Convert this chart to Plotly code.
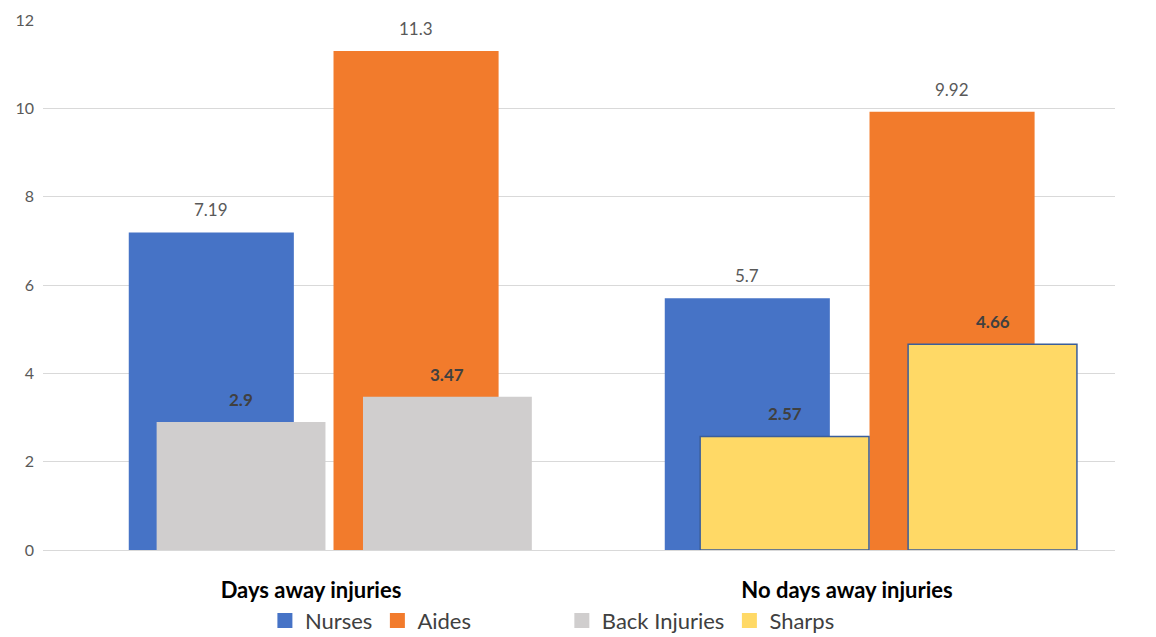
import plotly.graph_objects as go

categories = ["Days away injuries", "No days away injuries"]
nurses = [7.19, 5.7]
aides = [11.3, 9.92]
back_injuries = [2.9, 3.47]      # both in "Days away injuries" (nurses, aides)
sharps = [2.57, 4.66]            # both in "No days away injuries" (nurses, aides)
y_ticks = [0, 2, 4, 6, 8, 10, 12]

FONT = "Lato"
W_MAIN = 0.308
OFF_N, OFF_A = -0.340, 0.042
W_OV = 0.315
OFF_OV = [-0.288, 0.097]
OFF_OV2 = [-0.274, 0.114]

C_N, C_A, C_B, C_S = "#4673c6", "#f27b2c", "#d0cece", "#ffd966"

fig = go.Figure()
fig.add_trace(go.Bar(name="Nurses", x=categories, y=nurses, width=W_MAIN, offset=OFF_N,
                     marker=dict(color=C_N, line=dict(width=0)), showlegend=False))
fig.add_trace(go.Bar(name="Aides", x=categories, y=aides, width=W_MAIN, offset=OFF_A,
                     marker=dict(color=C_A, line=dict(width=0)), showlegend=False))
fig.add_trace(go.Bar(name="Back Injuries", x=[categories[0]] * 2, y=back_injuries,
                     width=W_OV, offset=OFF_OV,
                     marker=dict(color=C_B, line=dict(width=0)), showlegend=False))
fig.add_trace(go.Bar(name="Sharps", x=[categories[1]] * 2, y=sharps,
                     width=W_OV, offset=OFF_OV2,
                     marker=dict(color=C_S, line=dict(color="#3b5e9a", width=1.5)),
                     showlegend=False))

# legend-only square markers (bigger swatches)
for name, col, lg in [("Nurses", C_N, "legend"), ("Aides", C_A, "legend"),
                      ("Back Injuries", C_B, "legend2"), ("Sharps", C_S, "legend2")]:
    fig.add_trace(go.Scatter(name=name, x=[None], y=[None], mode="markers",
                             marker=dict(symbol="square", size=15, color=col, line=dict(width=0)),
                             legend=lg, showlegend=True))

LBL = 17
ann = []
for i, c in enumerate(categories):
    ann.append(dict(x=i + OFF_N + W_MAIN / 2, y=nurses[i], text=str(nurses[i]), showarrow=False,
                    yanchor="bottom", yshift=10, font=dict(family=FONT, size=LBL, color="#595959")))
    ann.append(dict(x=i + OFF_A + W_MAIN / 2, y=aides[i], text=str(aides[i]), showarrow=False,
                    yanchor="bottom", yshift=10, font=dict(family=FONT, size=LBL, color="#595959")))
for j, v in enumerate(back_injuries):
    ann.append(dict(x=0 + OFF_OV[j] + W_OV / 2, y=v, text=f"<b>{v}</b>", showarrow=False,
                    yanchor="bottom", yshift=10, font=dict(family=FONT, size=LBL, color="#404040")))
for j, v in enumerate(sharps):
    ann.append(dict(x=1 + OFF_OV2[j] + W_OV / 2, y=v, text=f"<b>{v}</b>", showarrow=False,
                    yanchor="bottom", yshift=10, font=dict(family=FONT, size=LBL, color="#404040")))

leg_common = dict(orientation="h", xanchor="left", y=-0.094, yanchor="top",
                  font=dict(family=FONT, size=22, color="#404040"), traceorder="normal",
                  itemwidth=30, itemsizing="trace", bgcolor="rgba(0,0,0,0)")

fig.update_layout(
    width=1156, height=637,
    margin=dict(l=43, r=41, t=20, b=87, autoexpand=False),
    paper_bgcolor="white", plot_bgcolor="white",
    barmode="overlay",
    annotations=ann,
    font=dict(family=FONT),
    legend=dict(x=0.207, **leg_common),
    legend2=dict(x=0.484, **leg_common),
    xaxis=dict(type="category", range=[-0.5, 1.5], showgrid=False, showline=False,
               ticks="", ticklabelstandoff=25,
               tickfont=dict(family=FONT, size=22, color="#000000", weight="bold")),
    yaxis=dict(range=[0, 12], tickvals=y_ticks, showgrid=True, gridcolor="#d9d9d9", gridwidth=1,
               zeroline=True, zerolinecolor="#d9d9d9", zerolinewidth=1, showline=False,
               ticks="", ticklabelstandoff=8,
               tickfont=dict(family=FONT, size=16, color="#595959")),
)

fig.write_html("out.html")
